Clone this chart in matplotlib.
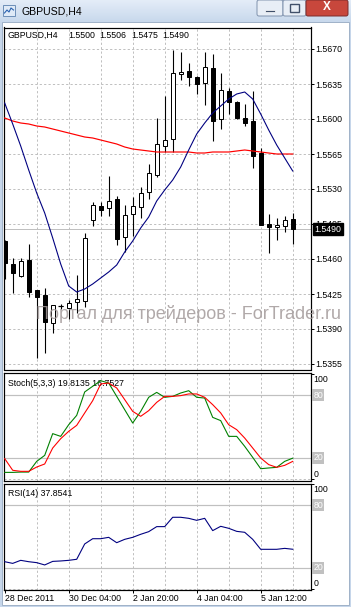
import numpy as np
import matplotlib
matplotlib.use('Agg')
import matplotlib.pyplot as plt
from matplotlib.patches import Rectangle, FancyBboxPatch
from matplotlib.colors import LinearSegmentedColormap

plt.rcParams['font.family'] = ['Liberation Sans', 'DejaVu Sans']

# ---------------- data ----------------
window_title = 'GBPUSD,H4'
header_values = ['1.5500', '1.5506', '1.5475', '1.5490']

opens = [1.5478, 1.5455, 1.5443, 1.5459, 1.5429, 1.5424, 1.5396, 1.5413, 1.5411, 1.5417,
         1.5418, 1.5499, 1.5513, 1.5511, 1.5520, 1.5482, 1.5505, 1.5512, 1.5527, 1.5544,
         1.5573, 1.5580, 1.5645, 1.5648, 1.5642, 1.5636, 1.5651, 1.5600, 1.5628, 1.5617,
         1.5601, 1.5598, 1.5566, 1.5495, 1.5492, 1.5493, 1.5500]
highs = [1.5479, 1.5461, 1.5461, 1.5475, 1.5429, 1.5431, 1.5414, 1.5415, 1.5419, 1.5444,
         1.5486, 1.5517, 1.5517, 1.5543, 1.5523, 1.5514, 1.5522, 1.5532, 1.5555, 1.5601,
         1.5623, 1.5669, 1.5667, 1.5656, 1.5643, 1.5667, 1.5665, 1.5646, 1.5631, 1.5618,
         1.5615, 1.5628, 1.5571, 1.5505, 1.5501, 1.5503, 1.5506]
lows = [1.5440, 1.5426, 1.5442, 1.5422, 1.5361, 1.5366, 1.5386, 1.5410, 1.5400, 1.5406,
        1.5412, 1.5493, 1.5503, 1.5503, 1.5474, 1.5467, 1.5483, 1.5501, 1.5520, 1.5542,
        1.5567, 1.5567, 1.5639, 1.5633, 1.5625, 1.5614, 1.5578, 1.5590, 1.5605, 1.5600,
        1.5593, 1.5551, 1.5494, 1.5466, 1.5479, 1.5487, 1.5475]
closes = [1.5456, 1.5446, 1.5458, 1.5427, 1.5422, 1.5397, 1.5414, 1.5413, 1.5416, 1.5420,
          1.5481, 1.5514, 1.5509, 1.5518, 1.5480, 1.5504, 1.5513, 1.5526, 1.5546, 1.5575,
          1.5579, 1.5646, 1.5647, 1.5642, 1.5635, 1.5652, 1.5598, 1.5629, 1.5617, 1.5601,
          1.5596, 1.5563, 1.5494, 1.5492, 1.5494, 1.5499, 1.5490]
ma_fast = [1.5616, 1.5595, 1.5573, 1.5549, 1.5526, 1.5506, 1.5481, 1.5455, 1.5433, 1.5427,
           1.5430, 1.5435, 1.5441, 1.5447, 1.5454, 1.5467, 1.5478, 1.5491, 1.5502, 1.5518,
           1.5529, 1.5539, 1.5552, 1.5569, 1.5585, 1.5596, 1.5606, 1.5613, 1.5620, 1.5625,
           1.5627, 1.5620, 1.5605, 1.5589, 1.5574, 1.5561, 1.5548]
ma_slow = [1.5601, 1.5598, 1.5596, 1.5595, 1.5593, 1.5592, 1.5590, 1.5588, 1.5586, 1.5584,
           1.5582, 1.5581, 1.5579, 1.5577, 1.5575, 1.5572, 1.5570, 1.5569, 1.5568, 1.5567,
           1.5567, 1.5567, 1.5567, 1.5567, 1.5566, 1.5566, 1.5567, 1.5567, 1.5567, 1.5568,
           1.5569, 1.5568, 1.5567, 1.5566, 1.5565, 1.5565, 1.5565]
stoch_main = [6.3, 6.3, 6.6, 6.6, 16.8, 22.5, 43.2, 40.6, 51.7, 60.6,
              82.9, 88.3, 93.6, 91.4, 78.7, 66.0, 53.3, 64.4, 77.8, 82.5,
              77.8, 78.7, 81.9, 84.1, 77.8, 77.1, 58.7, 55.6, 40.6, 40.6,
              31.1, 20.6, 9.8, 10.5, 11.1, 16.8, 19.8135]
stoch_signal = [19.4, 8.3, 7.3, 7.3, 11.4, 14.3, 29.5, 38.4, 45.4, 51.1,
                62.9, 74.6, 90.5, 91.4, 86.7, 75.6, 64.4, 59.7, 65.1, 73.0,
                78.7, 78.7, 79.4, 81.0, 81.0, 77.8, 70.8, 62.9, 51.7, 47.0,
                39.0, 29.5, 20.0, 13.7, 11.1, 13.0, 16.7527]
rsi = [26.0, 24.4, 27.3, 26.0, 25.1, 22.9, 26.3, 26.7, 27.3, 28.3,
       42.9, 47.9, 47.9, 49.2, 44.1, 47.3, 49.2, 52.1, 54.6, 59.4,
       59.4, 68.3, 68.3, 67.3, 65.4, 67.3, 55.6, 59.7, 57.8, 54.9,
       54.0, 47.3, 37.8, 37.8, 37.8, 38.7, 37.8541]
price_ticks = [1.5355, 1.5390, 1.5425, 1.5460, 1.5495, 1.5530, 1.5565, 1.5600, 1.5635, 1.5670]
x_tick_bars = [0, 8, 16, 24, 32]
x_tick_labels = ['28 Dec 2011', '30 Dec 04:00', '2 Jan 20:00', '4 Jan 04:00', '5 Jan 12:00']
stoch_title = 'Stoch(5,3,3) 19.8135 16.7527'
rsi_title = 'RSI(14) 37.8541'
stoch_levels = [20, 80]
rsi_levels = [20, 80]
watermark = 'Портал для трейдеров - ForTrader.ru'

# ---------------- layout ----------------
W, H = 351, 607
fig = plt.figure(figsize=(W / 100, H / 100), dpi=100)
fig.patch.set_facecolor('#c6d6ea')

def frect(r):
    x0, y0, x1, y1 = r
    return [x0 / W, 1 - y1 / H, (x1 - x0) / W, (y1 - y0) / H]

def axfrac(r, x, y):
    x0, y0, x1, y1 = r
    return (x - x0) / (x1 - x0), (y1 - y) / (y1 - y0)

PX = 0.72  # points per pixel
FS = 6.3
GRID = '#c0c0c0'

# background / window chrome
bg = fig.add_axes([0, 0, 1, 1], zorder=-10)
bg.axis('off')
grad = np.linspace(0, 1, 40)[:, None]
cm = LinearSegmentedColormap.from_list('tb', ['#e4edf8', '#c8d8ec'])
bg.imshow(grad, extent=(0, W, 22, 0), cmap=cm, aspect='auto', interpolation='bilinear')
bg.add_patch(Rectangle((2, 22), 347, 583, facecolor='white', edgecolor='#9fb2c8', lw=0.7))
# icon
bg.add_patch(Rectangle((3, 5), 12, 11, facecolor='#dfeaf7', edgecolor='#6d8fb8', lw=0.7))
bg.plot([4.5, 7, 9, 11, 13.5], [13, 10, 12, 8, 10], color='#2a62b0', lw=0.8)
bg.text(21, 11, window_title, fontsize=7.6, va='center', ha='left', color='black')
# buttons
bg.add_patch(FancyBboxPatch((257, 0), 26, 16, boxstyle='round,pad=0,rounding_size=2',
                            facecolor='#e8eef6', edgecolor='#7f92ad', lw=0.7))
bg.add_patch(Rectangle((265, 9.5), 10, 2.5, facecolor='#40506a', edgecolor='white', lw=0.5))
bg.add_patch(FancyBboxPatch((283, 0), 23, 16, boxstyle='round,pad=0,rounding_size=2',
                            facecolor='#e8eef6', edgecolor='#7f92ad', lw=0.7))
bg.add_patch(Rectangle((290, 4), 9, 8, facecolor='none', edgecolor='#40506a', lw=1.0))
bg.add_patch(FancyBboxPatch((306, 0), 42, 16, boxstyle='round,pad=0,rounding_size=2',
                            facecolor='#c8473c', edgecolor='#7a2b2b', lw=0.7))
bg.text(327, 7.5, 'X', fontsize=8.5, fontweight='bold', color='white', ha='center', va='center')
bg.set_xlim(0, W)
bg.set_ylim(H, 0)

# panels (pixel rects)
R_MAIN = (3.5, 27.5, 310.5, 369.5)
R_STO = (3.5, 372.5, 310.5, 481.0)
R_RSI = (3.5, 483.5, 310.5, 590.0)

def bar_to_x(px):
    return (px - 4.7) / 8.0

XL = (bar_to_x(R_MAIN[0]), bar_to_x(R_MAIN[2]))

def setup(ax):
    ax.set_facecolor('white')
    for s in ax.spines.values():
        s.set_linewidth(PX * 1.2)
        s.set_color('black')
    ax.set_xlim(*XL)
    ax.yaxis.tick_right()
    ax.tick_params(axis='y', direction='out', length=3 * PX, width=PX, pad=1.6,
                   labelsize=FS, colors='black')
    for b in range(4, len(closes) + 1, 4):
        ax.axvline(b, color=GRID, lw=PX, ls=(0, (2.2, 2.2)), zorder=0.5)

n = len(closes)
idx = np.arange(n)

# ---- main price panel ----
ax = fig.add_axes(frect(R_MAIN))
setup(ax)
ax.set_ylim(1.5670 - (R_MAIN[3] - 49) / 10000, 1.5670 + (49 - R_MAIN[1]) / 10000)
ax.set_yticks(price_ticks)
ax.set_yticklabels([f'{p:.4f}' for p in price_ticks])
ax.set_xticks([])
for p in price_ticks:
    ax.axhline(p, color=GRID, lw=PX, ls=(0, (2.2, 2.2)), zorder=0.5)
ax.axhline(closes[-1], color='#c0c0c0', lw=PX, zorder=0.6)

o = np.array(opens); c = np.array(closes); h = np.array(highs); l = np.array(lows)
ax.vlines(idx, l, h, color='black', lw=PX * 1.1, zorder=2)
bull = c >= o
ax.bar(idx[bull], (c - o)[bull], bottom=o[bull], width=0.55, facecolor='white',
       edgecolor='black', lw=PX, zorder=3)
ax.bar(idx[~bull], (o - c)[~bull], bottom=c[~bull], width=0.55, facecolor='black',
       edgecolor='black', lw=PX, zorder=3)
doji = c == o
ax.hlines(c[doji], idx[doji] - 0.3, idx[doji] + 0.3, color='black', lw=PX * 1.2, zorder=3)
ax.plot(idx, ma_slow, color='#ff0000', lw=PX * 1.2, zorder=4)
ax.plot(idx, ma_fast, color='#000080', lw=PX * 1.1, zorder=4)

fx, fy = axfrac(R_MAIN, 8, 35)
ax.text(fx, fy, window_title, transform=ax.transAxes, fontsize=FS, va='center', ha='left')
for xp, v in zip([68, 99, 131, 162], header_values):
    fx, _ = axfrac(R_MAIN, xp, 35)
    ax.text(fx, fy, v, transform=ax.transAxes, fontsize=FS, va='center', ha='left')

fx, _ = axfrac(R_MAIN, 314.5, 0)
ax.text(fx, closes[-1], f'{closes[-1]:.4f}', transform=ax.get_yaxis_transform(),
        fontsize=FS, color='white', va='center', ha='left', clip_on=False, zorder=10,
        bbox=dict(boxstyle='square,pad=0.2', facecolor='black', edgecolor='black'))

# ---- stochastic panel ----
ax2 = fig.add_axes(frect(R_STO))
setup(ax2)
ax2.set_ylim((479 - R_STO[3]) / 1.05, (479 - R_STO[1]) / 1.05)
ax2.set_yticks([0, 20, 80, 100])
ax2.set_yticklabels([])
ax2.set_xticks([])
ax2.axhline(0, color=GRID, lw=PX, ls=(0, (2.2, 2.2)), zorder=0.5)
for lv in stoch_levels:
    ax2.axhline(lv, color='#c0c0c0', lw=PX * 1.2, zorder=0.6)
ax2.plot(idx, stoch_main, color='#008000', lw=PX * 1.1, zorder=3)
ax2.plot(idx, stoch_signal, color='#ff0000', lw=PX * 1.1, zorder=3)
fx, fy = axfrac(R_STO, 8, 383)
ax2.text(fx, fy, stoch_title, transform=ax2.transAxes, fontsize=FS, va='center', ha='left', zorder=1)
lx, _ = axfrac(R_STO, 313.5, 0)
ax2.text(lx, (479 - 380) / 1.05, '100', transform=ax2.get_yaxis_transform(), fontsize=FS,
         va='center', ha='left', clip_on=False)
ax2.text(lx, (479 - 474.5) / 1.05, '0', transform=ax2.get_yaxis_transform(), fontsize=FS,
         va='center', ha='left', clip_on=False)
for lv in stoch_levels:
    ax2.text(lx, lv, str(lv), transform=ax2.get_yaxis_transform(), fontsize=FS, color='white',
             va='center', ha='left', clip_on=False,
             bbox=dict(boxstyle='square,pad=0.12', facecolor='#c0c0c0', edgecolor='none'))

# ---- RSI panel ----
ax3 = fig.add_axes(frect(R_RSI))
setup(ax3)
ax3.set_ylim((589 - R_RSI[3]) / 1.05, (589 - R_RSI[1]) / 1.05)
ax3.set_yticks([0, 20, 80, 100])
ax3.set_yticklabels([])
ax3.axhline(0, color=GRID, lw=PX, ls=(0, (2.2, 2.2)), zorder=0.5)
for lv in rsi_levels:
    ax3.axhline(lv, color='#c0c0c0', lw=PX * 1.2, zorder=0.6)
ax3.plot(idx, rsi, color='#000080', lw=PX * 1.1, zorder=3)
fx, fy = axfrac(R_RSI, 8, 493)
ax3.text(fx, fy, rsi_title, transform=ax3.transAxes, fontsize=FS, va='center', ha='left', zorder=1)
lx, _ = axfrac(R_RSI, 313.5, 0)
ax3.text(lx, (589 - 489) / 1.05, '100', transform=ax3.get_yaxis_transform(), fontsize=FS,
         va='center', ha='left', clip_on=False)
ax3.text(lx, (589 - 583.5) / 1.05, '0', transform=ax3.get_yaxis_transform(), fontsize=FS,
         va='center', ha='left', clip_on=False)
for lv in rsi_levels:
    ax3.text(lx, lv, str(lv), transform=ax3.get_yaxis_transform(), fontsize=FS, color='white',
             va='center', ha='left', clip_on=False,
             bbox=dict(boxstyle='square,pad=0.12', facecolor='#c0c0c0', edgecolor='none'))
ax3.set_xticks(x_tick_bars)
ax3.set_xticklabels(x_tick_labels, ha='left')
ax3.tick_params(axis='x', direction='out', length=3 * PX, width=PX, pad=0.8, labelsize=FS)

# watermark
fig.text(36 / W, 1 - 314 / H, watermark, fontsize=13, color='#a39a9a', alpha=0.85,
         va='center', ha='left', zorder=20)

fig.savefig('out.png', dpi=100, facecolor=fig.get_facecolor())
